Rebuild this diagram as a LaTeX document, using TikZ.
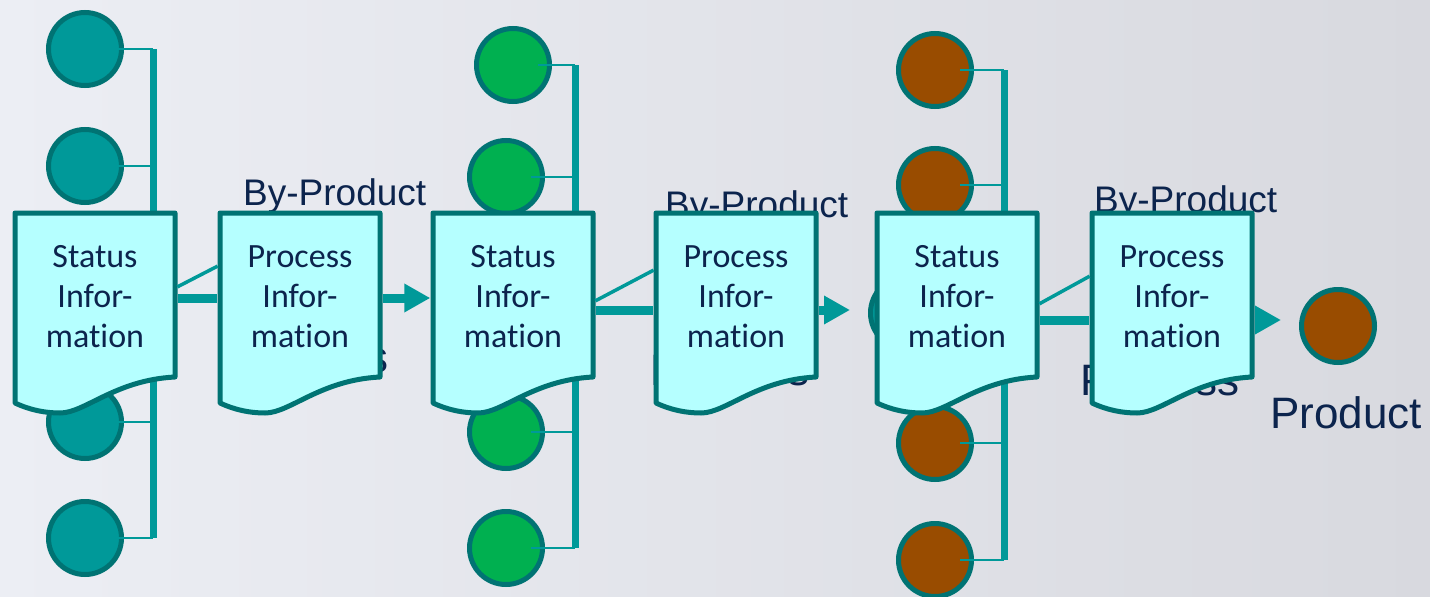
\documentclass[tikz,border=0pt]{standalone}
\usepackage{fontspec}
\setmainfont{Liberation Sans}
\newfontfamily\docfont[Ligatures=NoCommon]{Carlito}
\usepackage{xcolor}
\usetikzlibrary{arrows.meta,positioning,calc}

\definecolor{tealline}{RGB}{0,153,153}
\definecolor{tealdark}{RGB}{0,115,115}
\definecolor{tealfill}{RGB}{0,153,153}
\definecolor{greenfill}{RGB}{0,176,80}
\definecolor{brownfill}{RGB}{153,76,0}
\definecolor{docfill}{RGB}{181,255,255}
\definecolor{navytext}{RGB}{12,36,77}
\definecolor{bgleft}{RGB}{236,238,244}
\definecolor{bgright}{RGB}{216,217,223}

\begin{document}
\begin{tikzpicture}[x=1pt,y=-1pt,
  every node/.style={text=navytext},
  dot/.style={circle,draw=tealdark,line width=5pt,minimum size=73pt,inner sep=0pt},
  bus/.style={draw=tealline,line width=7pt},
  branch/.style={draw=tealline,line width=2pt},
  link/.style={draw=tealline,line width=9pt,shorten <=2.5pt,shorten >=2.5pt},
  byline/.style={draw=tealline,line width=3.5pt,shorten <=2.5pt,shorten >=2.5pt},
  flow/.style={draw=tealline,line width=9pt,shorten <=2.5pt,-{Triangle[length=26pt,width=27pt]}},
  bytext/.style={font=\fontsize{37}{44}\selectfont,anchor=base west,inner sep=0pt},
  bigtext/.style={font=\fontsize{44}{52}\selectfont,anchor=base west,inner sep=0pt},
  doctext/.style={minimum width=160pt,minimum height=164pt,inner sep=0pt,align=center,
    font=\docfont\fontsize{34}{40}\selectfont},
  docpic/.pic={
    \draw[draw=tealdark,fill=docfill,line width=5pt,line join=round]
      (0,0) -- (160,0) -- (160,164) .. controls (100,167) and (70,200) .. (45,200)
      .. controls (30,200) and (15,197) .. (0,190) -- cycle;
    \node[doctext] (-txt) at (80,84) {#1};
  }]
  \useasboundingbox (0,0) rectangle (1430,597);
  % backdrop
  \shade[left color=bgleft,right color=bgright] (0,0) rectangle (1430,597);

  % stage 1: teal inputs on a bus
  \coordinate (b1t) at (153,49);
  \coordinate (b1b) at (153,538);
  \draw[bus] (b1t) -- (b1b);
  \node[dot,fill=tealfill] (t1) at (85,49) {};
  \node[dot,fill=tealfill] (t2) at (85,166) {};
  \node[dot,fill=tealfill] (t3) at (85,422) {};
  \node[dot,fill=tealfill] (t4) at (85,538) {};
  \foreach \c in {t1,t2,t3,t4}
    \draw[branch] ([xshift=-6pt]\c.east) -- (\c.east -| b1t);

  % stage 2: green inputs on a bus
  \coordinate (b2t) at (575,65);
  \coordinate (b2b) at (575,548);
  \draw[bus] (b2t) -- (b2b);
  \node[dot,fill=greenfill] (g1) at (513,65) {};
  \node[dot,fill=greenfill] (g2) at (506,177) {};
  \node[dot,fill=greenfill] (g3) at (506,432) {};
  \node[dot,fill=greenfill] (g4) at (506,548) {};
  \foreach \c in {g1,g2,g3,g4}
    \draw[branch] ([xshift=-14pt]\c.east) -- (\c.east -| b2t);

  % stage 3: brown inputs on a bus
  \coordinate (b3t) at (1004,70);
  \coordinate (b3b) at (1004,560);
  \draw[bus] (b3t) -- (b3b);
  \node[dot,fill=brownfill] (r1) at (935,70) {};
  \node[dot,fill=brownfill] (r2) at (935,185) {};
  \node[dot,fill=brownfill] (r3) at (935,443) {};
  \node[dot,fill=brownfill] (r4) at (935,560) {};
  \foreach \c in {r1,r2,r3,r4}
    \draw[branch] ([xshift=-14pt]\c.east) -- (\c.east -| b3t);
  \node[dot,fill=tealfill] (c3in) at (907,313) {};
  \node[dot,fill=brownfill] (pc) at (1338,326) {};

  % labels behind the sheets
  \node[bytext] (by1) at (243,205) {By-Product};
  \node[bytext] (by2) at (665,217) {By-Product};
  \node[bytext] (by3) at (1094,212) {By-Product};
  \node[bigtext] (pr1) at (229,372) {Process};
  \node[bigtext] (pr2) at (650,385) {Process};
  \node[bigtext] (pr3) at (1080,395) {Process};
  \node[bigtext] (prod) at (1270,428) {Product};

  % information sheets
  \pic (s1) at (15,213) {docpic={Status\\Infor-\\mation}};
  \pic (p1) at (220,213) {docpic={Process\\Infor-\\mation}};
  \pic (s2) at (433,213) {docpic={Status\\Infor-\\mation}};
  \pic (p2) at (656,213) {docpic={Process\\Infor-\\mation}};
  \pic (s3) at (877,213) {docpic={Status\\Infor-\\mation}};
  \pic (p3) at (1092,213) {docpic={Process\\Infor-\\mation}};

  % links between sheets
  \draw[link] ([yshift=-1pt]s1-txt.east) -- ([yshift=-1pt]p1-txt.west);
  \draw[byline] ([yshift=9pt]s1-txt.east) -- ([yshift=32pt]p1-txt.west);
  \draw[flow,shorten >=2.5pt] ([yshift=-1pt]p1-txt.east) -- ([yshift=-1pt]s2-txt.west);

  \draw[link] ([yshift=-13pt]s2-txt.east) -- ([yshift=-13pt]p2-txt.west);
  \draw[byline] ([yshift=-5pt]s2-txt.east) -- ([yshift=28pt]p2-txt.west);
  \coordinate (o2) at ([yshift=-13pt]p2-txt.east);
  \draw[flow,shorten >=18pt] (o2) -- (o2 -| c3in.west);

  \draw[link] ([yshift=-23pt]s3-txt.east) -- ([yshift=-23pt]p3-txt.west);
  \draw[byline] ([yshift=-8pt]s3-txt.east) -- ([yshift=22pt]p3-txt.west);
  \coordinate (o3) at ([yshift=-23pt]p3-txt.east);
  \draw[flow,shorten >=18pt] (o3) -- (o3 -| pc.west);
\end{tikzpicture}
\end{document}
